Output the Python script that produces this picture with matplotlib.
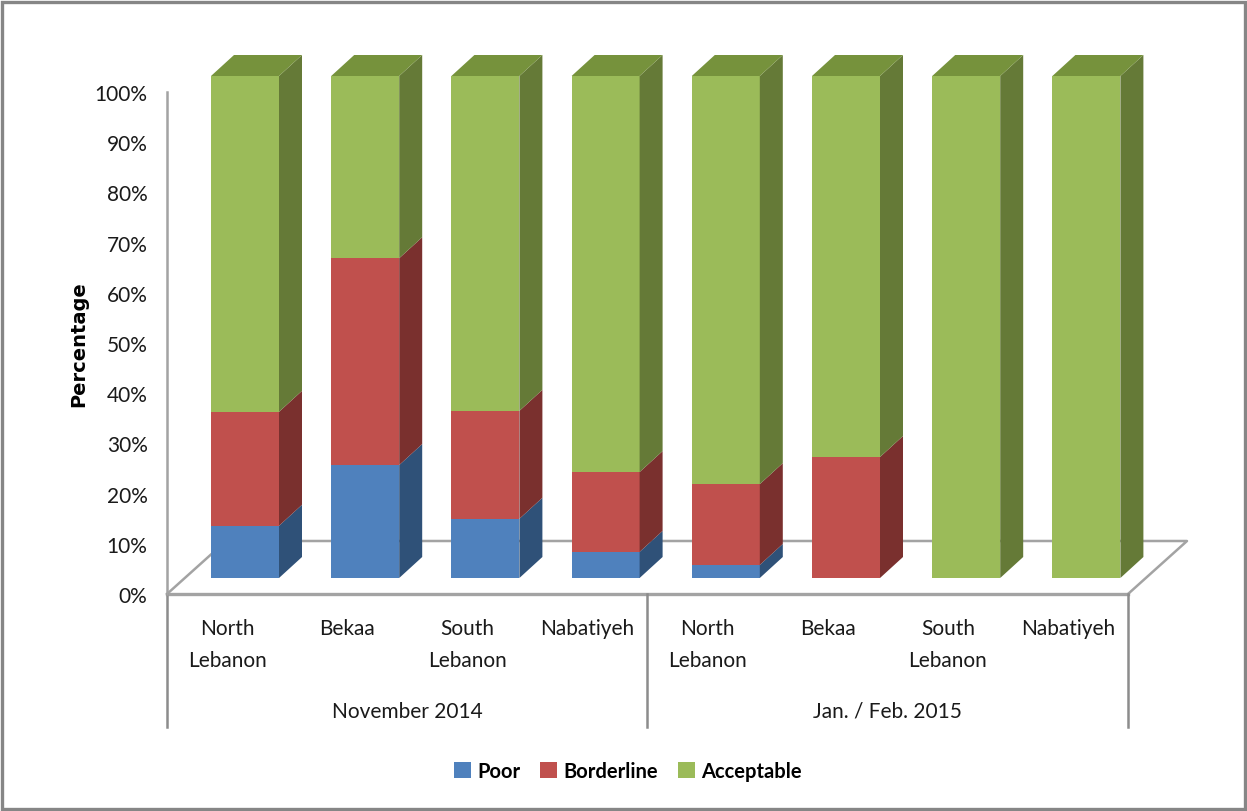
import matplotlib
matplotlib.use('Agg')
import matplotlib.pyplot as plt
from matplotlib.lines import Line2D
from matplotlib.patches import Rectangle

W, H = 1247, 812

# Datos de cada barra apilada (porcentajes)
periods = ['November 2014', 'Jan. / Feb. 2015']
regions = ['North\nLebanon', 'Bekaa', 'South\nLebanon', 'Nabatiyeh',
           'North\nLebanon', 'Bekaa', 'South\nLebanon', 'Nabatiyeh']
poor = [10.4, 22.5, 11.8, 5.2, 2.6, 0, 0, 0]
borderline = [22.7, 41.2, 21.5, 15.9, 16.1, 24.1, 0, 0]
acceptable = [66.9, 36.3, 66.7, 78.9, 81.3, 75.9, 100, 100]
series_names = ['Poor', 'Borderline', 'Acceptable']
y_ticks = [0, 10, 20, 30, 40, 50, 60, 70, 80, 90, 100]

front = ['#4F81BD', '#C0504D', '#9BBB59']
side = ['#2F5178', '#7A302E', '#657A37']
top_color = '#76923C'
grey = '#A3A3A3'
font = 'Lato'


def box(x0, y0, x1, y1):
    # rectangulo en pixeles (origen arriba a la izquierda) a fraccion de figura
    return [x0 / W, 1 - y1 / H, (x1 - x0) / W, (y1 - y0) / H]


def px_line(xs, ys, color=grey, lw=1.8):
    fig.add_artist(Line2D([x / W for x in xs], [1 - y / H for y in ys],
                          color=color, lw=lw, zorder=-1,
                          transform=fig.transFigure))


fig = plt.figure(figsize=(W / 100, H / 100), dpi=100, facecolor='white')

# Marco exterior
fig.add_artist(Rectangle((2 / W, 2 / H), (W - 4) / W, (H - 5) / H, fill=False,
                         edgecolor='#868686', lw=2.4, zorder=-2,
                         transform=fig.transFigure))

# Piso en perspectiva
px_line([167, 226, 1187, 1128], [595, 542, 542, 595])
px_line([167, 1128], [595, 595], lw=2.4)

# Ejes con las etiquetas
ax = fig.add_axes(box(167, 93, 1128, 595))
ax.patch.set_alpha(0)
ax.set_xlim(-0.5, 7.5)
ax.set_ylim(0, 100)
for s in ['top', 'right', 'bottom']:
    ax.spines[s].set_visible(False)
ax.spines['left'].set_color(grey)
ax.spines['left'].set_linewidth(1.8)
ax.set_yticks(y_ticks)
ax.set_yticklabels([f'{v}%' for v in y_ticks], fontsize=15, family=font, color='#1a1a1a')
ax.set_xticks(range(len(regions)))
ax.set_xticklabels(regions, fontsize=15, family=font, color='#1a1a1a', linespacing=1.75)
ax.tick_params(axis='y', length=0, pad=14)
ax.tick_params(axis='x', length=0, pad=17)
ax.set_ylabel('Percentage', fontsize=14, family='DejaVu Sans', fontweight='bold',
              labelpad=0)
ax.yaxis.set_label_coords(-79 / 961, 0.5)

# Separadores y nombre de cada periodo
px_line([167, 167], [595, 728], color='#8C8C8C')
px_line([647, 647], [595, 728], color='#8C8C8C')
px_line([1128, 1128], [595, 728], color='#8C8C8C')
ax.text(1.5, -23.3, periods[0], ha='center', va='center', fontsize=15, family=font,
        color='#1a1a1a', transform=ax.transData, clip_on=False)
ax.text(5.5, -23.3, periods[1], ha='center', va='center', fontsize=15, family=font,
        color='#1a1a1a', transform=ax.transData, clip_on=False)

# Barras: la cara frontal va en sus propios ejes, sobre la base de la caja
ax2 = fig.add_axes(box(184.9, 77, 1146.5, 579))
ax2.patch.set_alpha(0)
ax2.set_xlim(-0.5, 7.5)
ax2.set_ylim(0, 100)
ax2.axis('off')

bar_w = 68 / 120.2
dx = 23 / 120.2
dy = 21 / 5.02
x = list(range(len(regions)))

bottom = [0] * len(x)
handles = []
for values, name, c, c_side in zip([poor, borderline, acceptable], series_names, front, side):
    bars = ax2.bar(x, values, bar_w, bottom=bottom, color=c, label=name, zorder=3)
    handles.append(bars)
    for xi, b, v in zip(x, bottom, values):
        if v == 0:
            continue
        # cara lateral del segmento
        xr = xi + bar_w / 2
        ax2.fill([xr, xr + dx, xr + dx, xr],
                 [b, b + dy, b + v + dy, b + v],
                 color=c_side, lw=0, zorder=3, clip_on=False)
    bottom = [b + v for b, v in zip(bottom, values)]

# Tapa superior de cada barra
for xi, b in zip(x, bottom):
    xl = xi - bar_w / 2
    xr = xi + bar_w / 2
    ax2.fill([xl, xr, xr + dx, xl + dx], [b, b, b + dy, b + dy],
             color=top_color, lw=0, zorder=3, clip_on=False)

fig.legend(handles, series_names, loc='center', bbox_to_anchor=(628 / W, 1 - 772 / H),
           ncol=3, frameon=False, handlelength=0.85, handleheight=0.85, handletextpad=0.3,
           columnspacing=1.0,
           prop={'family': font, 'weight': 'bold', 'size': 14.5})

fig.savefig('out.png', dpi=100)
